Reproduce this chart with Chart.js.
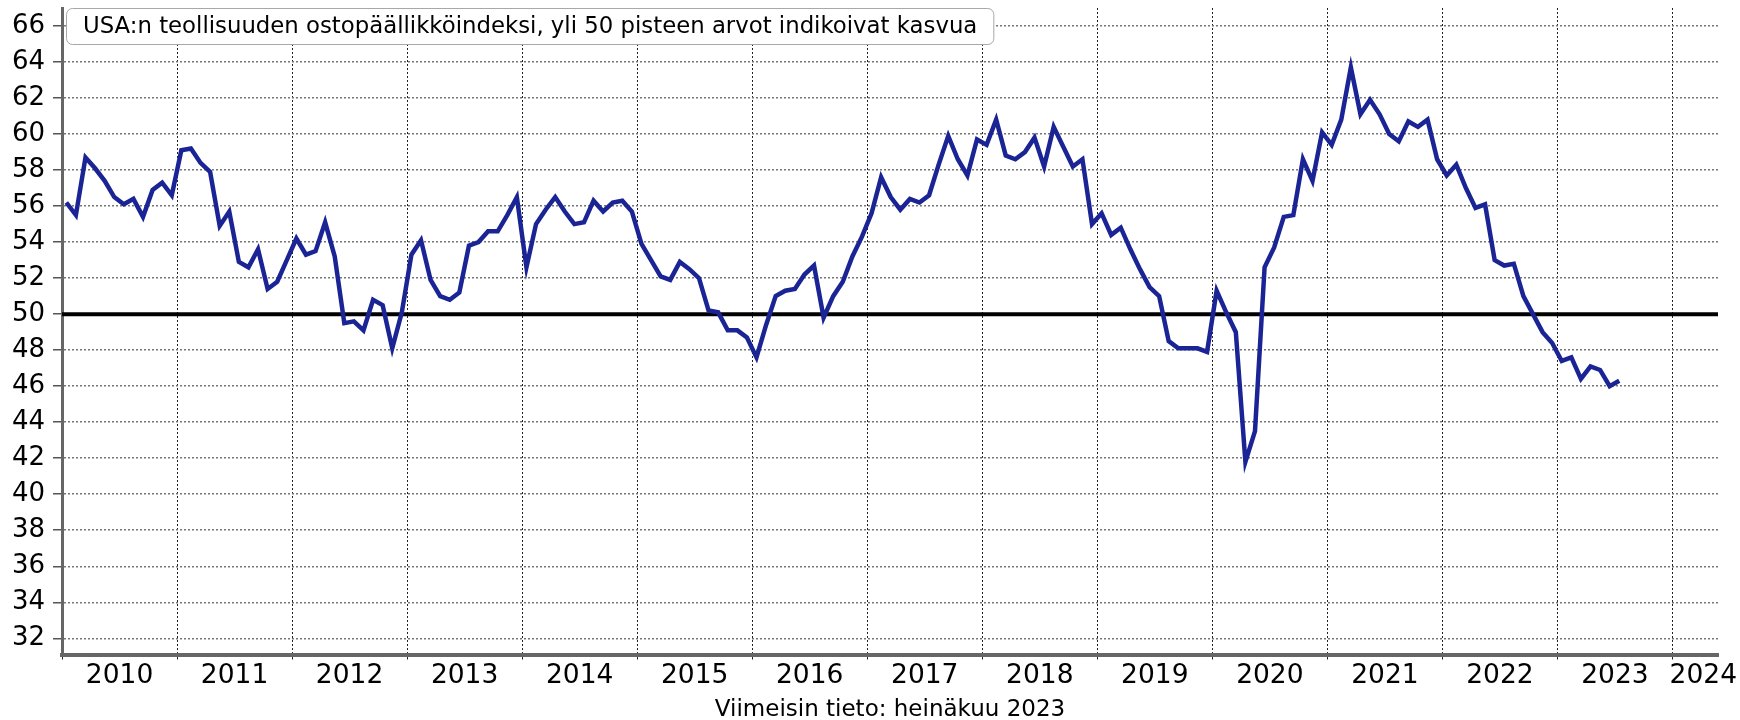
<!DOCTYPE html>
<html>
<head>
<meta charset="utf-8">
<script src="https://cdn.jsdelivr.net/npm/chart.js@4.4.0/dist/chart.umd.min.js"></script>
<style>
  html, body { margin: 0; padding: 0; background: #fff; }
  #wrap { width: 1740px; height: 720px; }
</style>
</head>
<body>
<div id="wrap"><canvas id="pmiChart" width="1740" height="720"></canvas></div>
<script>
// USA:n ISM teollisuuden PMI, kuukausittain 1/2010 - 7/2023
const pmiValues = [
  56.2, 55.5, 58.7, 58.1, 57.4, 56.5, 56.1, 56.4, 55.4, 56.9, 57.3, 56.6, // 2010
  59.1, 59.2, 58.4, 57.9, 54.9, 55.7, 52.9, 52.6, 53.6, 51.4, 51.8, 53.0, // 2011
  54.2, 53.3, 53.5, 55.1, 53.2, 49.5, 49.6, 49.1, 50.8, 50.5, 48.1, 50.1, // 2012
  53.3, 54.1, 51.9, 51.0, 50.8, 51.2, 53.8, 54.0, 54.6, 54.6, 55.5, 56.5, // 2013
  52.6, 55.0, 55.8, 56.5, 55.7, 55.0, 55.1, 56.3, 55.7, 56.2, 56.3, 55.7, // 2014
  53.9, 53.0, 52.1, 51.9, 52.9, 52.5, 52.0, 50.2, 50.1, 49.1, 49.1, 48.7, // 2015
  47.6, 49.4, 51.0, 51.3, 51.4, 52.2, 52.7, 49.8, 51.0, 51.8, 53.2, 54.3, // 2016
  55.6, 57.6, 56.5, 55.8, 56.4, 56.2, 56.6, 58.3, 59.9, 58.6, 57.7, 59.7, // 2017
  59.4, 60.8, 58.8, 58.6, 59.0, 59.8, 58.2, 60.4, 59.3, 58.2, 58.6, 55.0, // 2018
  55.6, 54.4, 54.8, 53.6, 52.5, 51.5, 51.0, 48.5, 48.1, 48.1, 48.1, 47.9, // 2019
  51.3, 50.1, 49.0, 41.8, 43.5, 52.6, 53.7, 55.4, 55.5, 58.6, 57.4, 60.1, // 2020
  59.4, 60.8, 63.7, 61.1, 61.9, 61.1, 60.0, 59.6, 60.7, 60.4, 60.8, 58.6, // 2021
  57.7, 58.3, 57.0, 55.9, 56.1, 53.0, 52.7, 52.8, 51.0, 50.0, 49.0, 48.4, // 2022
  47.4, 47.6, 46.4, 47.1, 46.9, 46.0, 46.3                                // 2023
];
const yearLabels = ['2010', '2011', '2012', '2013', '2014', '2015', '2016', '2017',
                    '2018', '2019', '2020', '2021', '2022', '2023', '2024'];
const yTicks = [32, 34, 36, 38, 40, 42, 44, 46, 48, 50, 52, 54, 56, 58, 60, 62, 64, 66];
const threshold = 50;
const titleText = 'USA:n teollisuuden ostopäällikköindeksi, yli 50 pisteen arvot indikoivat kasvua';
const footerText = 'Viimeisin tieto: heinäkuu 2023';

const FONT = '"DejaVu Sans", Verdana, sans-serif';
const xMax = 172.75; // kuukausia tammikuusta 2010
const pmiPoints = pmiValues.map((v, i) => ({ x: i + 0.45, y: v }));
const yearBounds = yearLabels.map((_, k) => k * 12);

// vuosiotsikot, alateksti ja otsikkolaatikko
const extras = {
  id: 'extras',
  afterDraw(chart) {
    const ctx = chart.ctx;
    const xs = chart.scales.x;
    const area = chart.chartArea;
    ctx.save();
    ctx.font = '26.5px ' + FONT;
    ctx.fillStyle = '#000';
    ctx.textAlign = 'center';
    ctx.textBaseline = 'middle';
    yearLabels.forEach((lab, k) => {
      let px = xs.getPixelForValue(k * 12 + 6);
      const w = ctx.measureText(lab).width;
      if (px + w / 2 > chart.width - 3) px = chart.width - 3 - w / 2;
      ctx.fillText(lab, px, 676);
    });

    ctx.font = '23px ' + FONT;
    ctx.textBaseline = 'alphabetic';
    ctx.fillText(footerText, (area.left + area.right) / 2, 716);

    ctx.font = '22.8px ' + FONT;
    const tw = ctx.measureText(titleText).width;
    const bx = 66.5, by = 8.5, bh = 36, bw = tw + 33;
    ctx.beginPath();
    ctx.roundRect(bx, by, bw, bh, 6);
    ctx.fillStyle = '#fff';
    ctx.fill();
    ctx.strokeStyle = '#a8a8a8';
    ctx.lineWidth = 1;
    ctx.stroke();
    ctx.fillStyle = '#000';
    ctx.textAlign = 'left';
    ctx.textBaseline = 'middle';
    ctx.fillText(titleText, bx + 16.5, by + bh / 2 + 1);
    ctx.restore();
  }
};

new Chart(document.getElementById('pmiChart'), {
  type: 'line',
  data: {
    datasets: [{
      data: pmiPoints,
      borderColor: '#1b2495',
      borderWidth: 4.5,
      pointRadius: 0,
      tension: 0,
      order: 0
    }, {
      data: [{ x: 0, y: threshold }, { x: xMax, y: threshold }],
      borderColor: '#000',
      borderWidth: 4,
      pointRadius: 0,
      order: 1
    }]
  },
  options: {
    responsive: false,
    animation: false,
    events: [],
    layout: { padding: { top: 8, right: 22, left: 0, bottom: 0 } },
    plugins: { legend: { display: false }, tooltip: { enabled: false } },
    scales: {
      x: {
        type: 'linear',
        min: 0,
        max: xMax,
        afterBuildTicks: s => { s.ticks = yearBounds.map(v => ({ value: v })); },
        afterFit: s => { s.height = 720 - 654.5; s.paddingLeft = 0; s.paddingRight = 0; },
        ticks: { display: false },
        grid: { color: '#222', lineWidth: 1, tickLength: 5, tickColor: '#222', tickWidth: 1 },
        border: { color: '#666', width: 4, dash: [2, 2] }
      },
      y: {
        min: 31.1,
        max: 67,
        afterBuildTicks: s => { s.ticks = yTicks.map(v => ({ value: v })); },
        afterFit: s => { s.width = 62; s.paddingTop = 0; s.paddingBottom = 0; },
        ticks: { font: { family: FONT, size: 26 }, color: '#000', padding: 8 },
        grid: { color: '#777', lineWidth: 1.5, tickLength: 9, tickColor: '#555', tickWidth: 1.5 },
        border: { color: '#666', width: 3, dash: [2, 2] }
      }
    }
  },
  plugins: [extras]
});
</script>
</body>
</html>
